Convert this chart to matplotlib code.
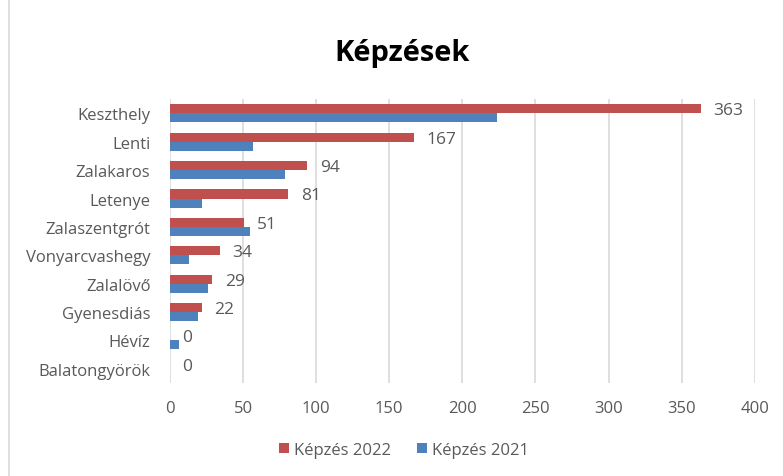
import matplotlib
matplotlib.use('Agg')
import matplotlib.pyplot as plt
import numpy as np

# adatok
telepulesek = ['Keszthely', 'Lenti', 'Zalakaros', 'Letenye', 'Zalaszentgrót',
               'Vonyarcvashegy', 'Zalalövő', 'Gyenesdiás', 'Hévíz', 'Balatongyörök']
kepzes_2022 = [363, 167, 94, 81, 51, 34, 29, 22, 0, 0]
kepzes_2021 = [224, 57, 79, 22, 55, 13, 26, 19, 6, 0]
xticks = [0, 50, 100, 150, 200, 250, 300, 350, 400]

piros = '#C0504D'
kek = '#4F81BD'
szurke = '#595959'

plt.rcParams['font.family'] = ['Open Sans', 'DejaVu Sans']

fig = plt.figure(figsize=(7.83, 4.77), dpi=100)
ax = fig.add_axes([0.217, 0.195, 0.747, 0.595])

y = np.arange(len(telepulesek))
h = 0.32
ax.barh(y - h / 2, kepzes_2022, height=h, color=piros, label='Képzés 2022', zorder=3)
ax.barh(y + h / 2, kepzes_2021, height=h, color=kek, label='Képzés 2021', zorder=3)

for yi, v in zip(y, kepzes_2022):
    ax.annotate(str(v), (v, yi - h / 2 + 0.05), xytext=(9, 0), textcoords='offset points',
                va='center', ha='left', fontsize=12.5, color=szurke)

ax.set_yticks(y)
ax.set_yticklabels(telepulesek, fontsize=12, color=szurke)
ax.set_ylim(len(telepulesek) - 0.5, -0.5)
ax.set_xlim(0, 400)
ax.set_xticks(xticks)
ax.set_xticklabels([str(t) for t in xticks], fontsize=12, color=szurke)
ax.tick_params(axis='y', length=0, pad=14)
ax.tick_params(axis='x', length=0, pad=12)
ax.grid(axis='x', color='#D9D9D9', linewidth=1.2, zorder=0)
for s in ax.spines.values():
    s.set_visible(False)

fig.text(0.513, 0.888, 'Képzések', ha='center', va='center', fontsize=21,
         fontweight='bold', color='black')

ax.legend(loc='upper center', bbox_to_anchor=(0.40, -0.155), ncol=2, frameon=False,
          fontsize=12, handlelength=0.6, handleheight=0.6, columnspacing=1.6,
          handletextpad=0.3, labelcolor=szurke)

# keret bal oldalt
fig.add_artist(plt.Line2D([0.011, 0.011], [0.0, 1.0], color='#D9D9D9', linewidth=1.2))

fig.savefig('out.png', dpi=100)
